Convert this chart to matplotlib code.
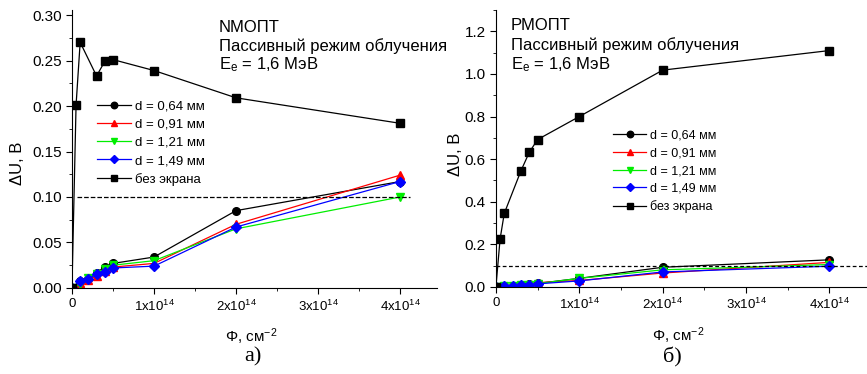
import matplotlib.pyplot as plt
from matplotlib.ticker import MultipleLocator, FuncFormatter

plt.rcParams['font.family'] = ['Liberation Sans', 'DejaVu Sans']
plt.rcParams['mathtext.fontset'] = 'custom'
plt.rcParams['mathtext.rm'] = 'Liberation Sans'
plt.rcParams['mathtext.it'] = 'Liberation Sans:italic'

# fluence, cm^-2
phi = [0, 0.1e14, 0.2e14, 0.3e14, 0.4e14, 0.5e14, 1e14, 2e14, 4e14]
phi_bare = [0, 0.05e14, 0.1e14, 0.3e14, 0.4e14, 0.5e14, 1e14, 2e14, 4e14]

labels = ["d = 0,64 мм", "d = 0,91 мм", "d = 1,21 мм", "d = 1,49 мм", "без экрана"]

# a) NMOPT
n_064 = [0, 0.008, 0.010, 0.017, 0.023, 0.027, 0.034, 0.085, 0.117]
n_091 = [0, 0.006, 0.009, 0.013, 0.019, 0.023, 0.027, 0.070, 0.124]
n_121 = [0, 0.004, 0.011, 0.015, 0.021, 0.025, 0.030, 0.065, 0.100]
n_149 = [0, 0.008, 0.010, 0.015, 0.018, 0.022, 0.024, 0.067, 0.117]
n_bare = [0, 0.201, 0.270, 0.233, 0.249, 0.251, 0.239, 0.209, 0.181]

# b) PMOPT
p_064 = [0, 0.005, 0.006, 0.008, 0.012, 0.016, 0.040, 0.092, 0.127]
p_091 = [0, 0.004, 0.005, 0.007, 0.010, 0.020, 0.030, 0.065, 0.115]
p_121 = [0, 0.004, 0.005, 0.008, 0.011, 0.015, 0.040, 0.080, 0.105]
p_149 = [0, 0.004, 0.005, 0.008, 0.010, 0.014, 0.028, 0.070, 0.097]
p_bare = [0, 0.225, 0.345, 0.545, 0.632, 0.692, 0.800, 1.018, 1.110]

threshold = 0.1

styles = [dict(color='black', marker='o'),
          dict(color='red', marker='^'),
          dict(color='#00ee00', marker='v'),
          dict(color='blue', marker='D', markersize=5),
          dict(color='black', marker='s')]


def xfmt(v, pos):
    n = int(round(v / 1e14))
    if n == 0:
        return "0"
    return "%dx10$^{14}$" % n


def panel(ax, series, bare, ymax, ymaj, ymin):
    for ys, st, lab in zip(series, styles[:4], labels[:4]):
        kw = dict(markersize=5.5, lw=0.9)
        kw.update(st)
        ax.plot(phi, ys, label=lab, **kw)
    ax.plot(phi_bare, bare, label=labels[4], lw=0.9, markersize=5.5, **styles[4])
    ax.set_xlim(0, 4.45e14)
    ax.set_ylim(0, ymax)
    ax.spines['top'].set_visible(False)
    ax.spines['right'].set_visible(False)
    ax.xaxis.set_major_locator(MultipleLocator(1e14))
    ax.xaxis.set_minor_locator(MultipleLocator(0.5e14))
    ax.yaxis.set_major_locator(MultipleLocator(ymaj))
    ax.yaxis.set_minor_locator(MultipleLocator(ymin))
    ax.xaxis.set_major_formatter(FuncFormatter(xfmt))
    ax.tick_params(axis='x', labelsize=9.5, length=4, direction='out')
    ax.tick_params(axis='y', labelsize=11, length=4, direction='out')
    ax.tick_params(which='minor', length=2.5)
    ax.set_xlabel("Φ, см$^{-2}$", fontsize=11)
    ax.set_ylabel("ΔU, В", fontsize=12)


fig = plt.figure(figsize=(8.67, 3.74), dpi=100)

ax1 = fig.add_axes([0.083, 0.230, 0.421, 0.742])
panel(ax1, [n_064, n_091, n_121, n_149], n_bare, 0.305, 0.05, 0.025)
ax1.set_yticks([0, 0.05, 0.10, 0.15, 0.20, 0.25, 0.30])
ax1.yaxis.set_major_formatter(FuncFormatter(lambda v, p: "%.2f" % v))
ax1.plot([0.06e14, 4.12e14], [threshold, threshold], ls='--', color='black', lw=0.9)
ax1.text(0.403, 0.94, "NMОПТ", transform=ax1.transAxes, fontsize=12, va='center')
ax1.text(0.403, 0.872, "Пассивный режим облучения", transform=ax1.transAxes, fontsize=12, va='center')
ax1.text(0.403, 0.803, "E$_{\\rm e}$ = 1,6 МэВ", transform=ax1.transAxes, fontsize=12, va='center')
ax1.legend(loc='upper left', bbox_to_anchor=(0.05, 0.70), frameon=False, fontsize=9.5,
           handlelength=2.6, labelspacing=0.45, borderpad=0, handletextpad=0.3, markerscale=0.85)
ax1.xaxis.set_label_coords(0.49, -0.14)
ax1.yaxis.set_label_coords(-0.13, 0.45)
fig.text(0.292, 0.045, "а)", fontsize=16, family='Liberation Serif', ha='center', va='center')

ax2 = fig.add_axes([0.572, 0.233, 0.428, 0.740])
panel(ax2, [p_064, p_091, p_121, p_149], p_bare, 1.3, 0.2, 0.1)
ax2.set_yticks([0, 0.2, 0.4, 0.6, 0.8, 1.0, 1.2])
ax2.yaxis.set_major_formatter(FuncFormatter(lambda v, p: "%.1f" % v))
ax2.axhline(threshold, ls=(0, (3, 2)), color='black', lw=0.9)
ax2.text(0.04, 0.943, "РМОПТ", transform=ax2.transAxes, fontsize=12, va='center')
ax2.text(0.04, 0.872, "Пассивный режим облучения", transform=ax2.transAxes, fontsize=12, va='center')
ax2.text(0.04, 0.803, "E$_{\\rm e}$ = 1,6 МэВ", transform=ax2.transAxes, fontsize=12, va='center')
ax2.legend(loc='upper left', bbox_to_anchor=(0.30, 0.59), frameon=False, fontsize=9,
           handlelength=2.6, labelspacing=0.45, borderpad=0, handletextpad=0.3, markerscale=0.85)
ax2.xaxis.set_label_coords(0.49, -0.14)
ax2.yaxis.set_label_coords(-0.09, 0.48)
fig.text(0.775, 0.045, "б)", fontsize=16, family='Liberation Serif', ha='center', va='center')

fig.savefig("out.png", dpi=100)
